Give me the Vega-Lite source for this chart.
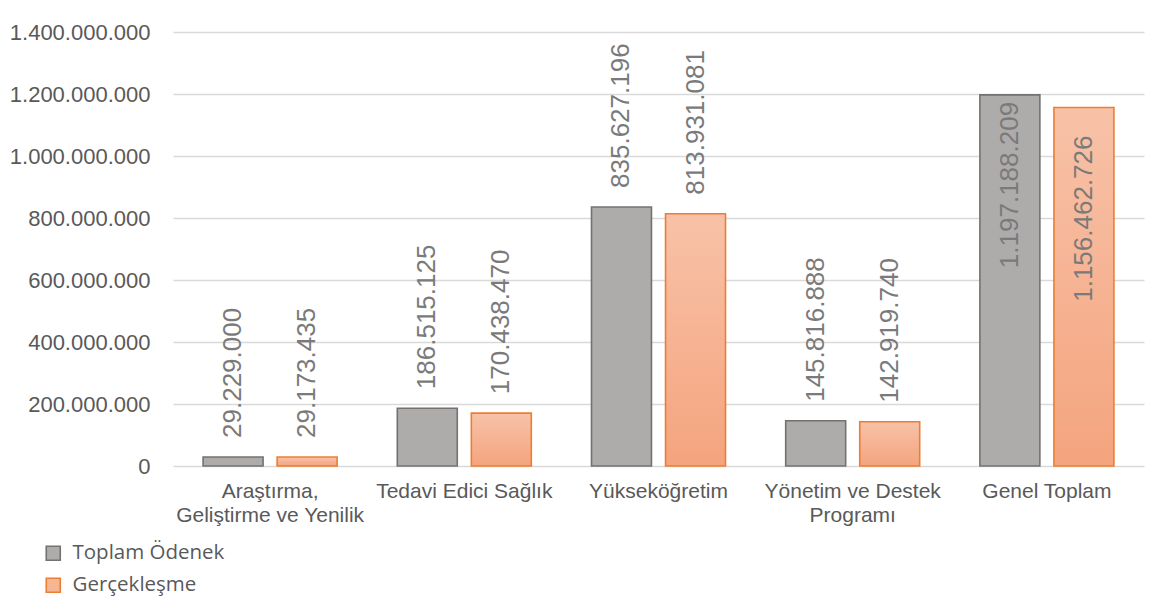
{
  "$schema": "https://vega.github.io/schema/vega-lite/v6.json",
  "width": 971,
  "height": 434,
  "autosize": {"type": "none"},
  "padding": {"left": 173, "top": 32, "right": 5, "bottom": 137},
  "background": "white",
  "config": {
    "locale": {"number": {"decimal": ",", "thousands": ".", "grouping": [3], "currency": ["", "₺"]}},
    "view": {"stroke": null},
    "font": "Liberation Sans",
    "axis": {"labelFont": "Liberation Sans", "labelFontSize": 21, "labelColor": "#595959", "title": null}
  },
  "data": {
    "values": [
      {"kategori": "Araştırma, Geliştirme ve Yenilik", "seri": "Toplam Ödenek", "deger": 29229000},
      {"kategori": "Araştırma, Geliştirme ve Yenilik", "seri": "Gerçekleşme", "deger": 29173435},
      {"kategori": "Tedavi Edici Sağlık", "seri": "Toplam Ödenek", "deger": 186515125},
      {"kategori": "Tedavi Edici Sağlık", "seri": "Gerçekleşme", "deger": 170438470},
      {"kategori": "Yükseköğretim", "seri": "Toplam Ödenek", "deger": 835627196},
      {"kategori": "Yükseköğretim", "seri": "Gerçekleşme", "deger": 813931081},
      {"kategori": "Yönetim ve Destek Programı", "seri": "Toplam Ödenek", "deger": 145816888},
      {"kategori": "Yönetim ve Destek Programı", "seri": "Gerçekleşme", "deger": 142919740},
      {"kategori": "Genel Toplam", "seri": "Toplam Ödenek", "deger": 1197188209},
      {"kategori": "Genel Toplam", "seri": "Gerçekleşme", "deger": 1156462726}
    ]
  },
  "encoding": {
    "x": {
      "field": "kategori", "type": "nominal", "sort": null,
      "scale": {"paddingInner": 0.31, "paddingOuter": 0.155},
      "axis": {
        "labelAngle": 0, "domain": false, "ticks": false, "labelPadding": 14, "labelLineHeight": 24, "labelLimit": 0,
        "labelExpr": "datum.label == 'Araştırma, Geliştirme ve Yenilik' ? ['Araştırma,', 'Geliştirme ve Yenilik'] : datum.label == 'Yönetim ve Destek Programı' ? ['Yönetim ve Destek', 'Programı'] : datum.label"
      }
    },
    "xOffset": {
      "field": "seri", "type": "nominal",
      "scale": {"domain": ["Toplam Ödenek", "Gerçekleşme"], "paddingInner": 0.19, "paddingOuter": 0}
    },
    "y": {
      "field": "deger", "type": "quantitative",
      "scale": {"domain": [0, 1400000000], "nice": false},
      "axis": {
        "values": [0, 200000000, 400000000, 600000000, 800000000, 1000000000, 1200000000, 1400000000],
        "format": ",d", "domain": false, "ticks": false, "labelPadding": 23, "labelFontSize": 22,
        "gridColor": "#d9d9d9", "gridWidth": 1.3
      }
    }
  },
  "layer": [
    {
      "mark": {"type": "bar", "strokeWidth": 1.6},
      "encoding": {
        "color": {
          "field": "seri", "type": "nominal",
          "condition": {
            "test": "datum.seri == 'Gerçekleşme'",
            "value": {"gradient": "linear", "x1": 0, "y1": 0, "x2": 0, "y2": 1, "stops": [{"offset": 0, "color": "#F8C2A8"}, {"offset": 1, "color": "#F4A47E"}]}
          },
          "scale": {"domain": ["Toplam Ödenek", "Gerçekleşme"], "range": ["#AEABAB", "#F6B593"]},
          "legend": {
            "title": null, "orient": "none", "direction": "vertical", "legendX": -130, "legendY": 511,
            "symbolType": "square", "symbolSize": 196, "symbolStrokeWidth": 1.6, "symbolOpacity": 1,
            "labelFont": "Open Sans", "labelFontSize": 20.5, "labelColor": "#595959", "labelOffset": 9, "rowPadding": 11
          }
        },
        "stroke": {
          "field": "seri", "type": "nominal",
          "scale": {"domain": ["Toplam Ödenek", "Gerçekleşme"], "range": ["#767171", "#ED7D31"]}
        }
      }
    },
    {
      "transform": [{"filter": "datum.kategori != 'Genel Toplam'"}],
      "mark": {"type": "text", "angle": 270, "align": "left", "baseline": "middle", "dx": 19, "fontSize": 26, "font": "Liberation Sans", "color": "#7a7a7a"},
      "encoding": {"text": {"field": "deger", "type": "quantitative", "format": ",d"}}
    },
    {
      "transform": [{"filter": "datum.kategori == 'Genel Toplam' && datum.seri == 'Toplam Ödenek'"}],
      "mark": {"type": "text", "angle": 270, "align": "right", "baseline": "middle", "dx": -7, "fontSize": 26, "font": "Liberation Sans", "color": "#7a7a7a"},
      "encoding": {"text": {"field": "deger", "type": "quantitative", "format": ",d"}}
    },
    {
      "transform": [{"filter": "datum.kategori == 'Genel Toplam' && datum.seri == 'Gerçekleşme'"}],
      "mark": {"type": "text", "angle": 270, "align": "right", "baseline": "middle", "dx": -28, "fontSize": 26, "font": "Liberation Sans", "color": "#7a7a7a"},
      "encoding": {"text": {"field": "deger", "type": "quantitative", "format": ",d"}}
    }
  ]
}
